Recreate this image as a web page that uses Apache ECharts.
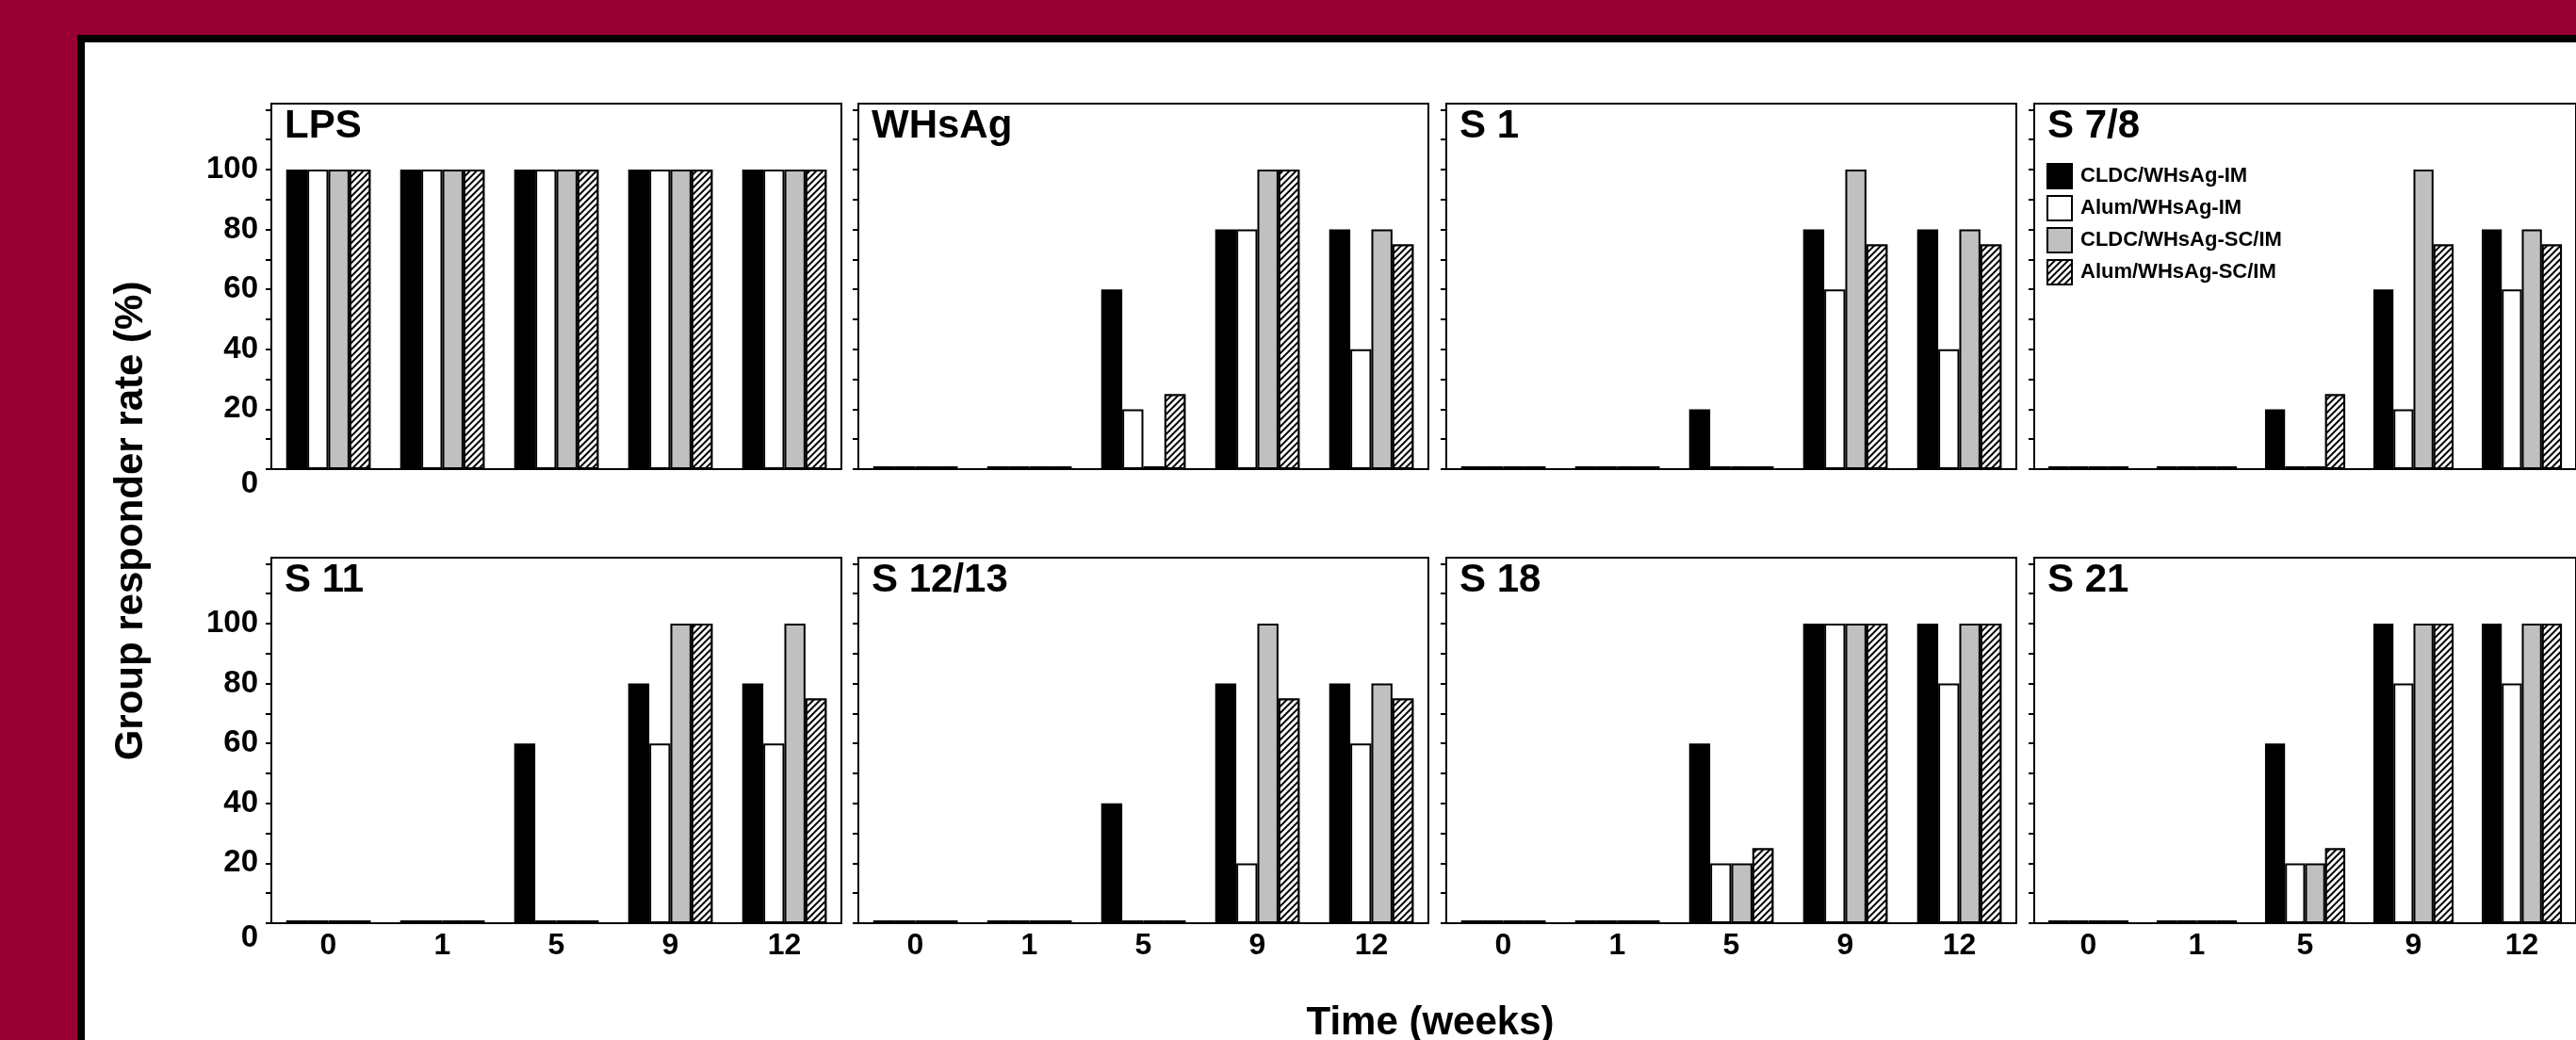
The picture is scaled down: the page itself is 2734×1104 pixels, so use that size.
<!DOCTYPE html>
<html>
<head>
<meta charset="UTF-8">
<title>Group responder rate</title>
<style>
  html, body { margin: 0; padding: 0; }
  body { width: 2734px; height: 1104px; overflow: hidden; background: #990033; position: relative; }
  #frame { position: absolute; left: 82px; top: 37px; width: 2700px; height: 1100px; background: #fff;
           border-left: 8px solid #000; border-top: 8px solid #000; }
  #chart { position: absolute; left: 0; top: 0; width: 2734px; height: 1104px; }
</style>
</head>
<body>
<div id="frame"></div>
<div id="chart"></div>
<script src="https://cdn.jsdelivr.net/npm/echarts@6/dist/echarts.min.js"></script>
<script>
// categories and panels
var weeks = ['0', '1', '5', '9', '12'];
var panels = ['LPS', 'WHsAg', 'S 1', 'S 7/8', 'S 11', 'S 12/13', 'S 18', 'S 21'];
var groups = ['CLDC/WHsAg-IM', 'Alum/WHsAg-IM', 'CLDC/WHsAg-SC/IM', 'Alum/WHsAg-SC/IM'];

// responder rate (%), one row per panel, by week
var cldcIM = [
    [100, 100, 100, 100, 100], // LPS
    [0, 0, 60, 80, 80],        // WHsAg
    [0, 0, 20, 80, 80],        // S 1
    [0, 0, 20, 60, 80],        // S 7/8
    [0, 0, 60, 80, 80],        // S 11
    [0, 0, 40, 80, 80],        // S 12/13
    [0, 0, 60, 100, 100],      // S 18
    [0, 0, 60, 100, 100]       // S 21
];
var alumIM = [
    [100, 100, 100, 100, 100],
    [0, 0, 20, 80, 40],
    [0, 0, 0, 60, 40],
    [0, 0, 0, 20, 60],
    [0, 0, 0, 60, 60],
    [0, 0, 0, 20, 60],
    [0, 0, 20, 100, 80],
    [0, 0, 20, 80, 80]
];
var cldcSC = [
    [100, 100, 100, 100, 100],
    [0, 0, 0, 100, 80],
    [0, 0, 0, 100, 80],
    [0, 0, 0, 100, 80],
    [0, 0, 0, 100, 100],
    [0, 0, 0, 100, 80],
    [0, 0, 20, 100, 100],
    [0, 0, 20, 100, 100]
];
var alumSC = [
    [100, 100, 100, 100, 100],
    [0, 0, 25, 100, 75],
    [0, 0, 0, 75, 75],
    [0, 0, 25, 75, 75],
    [0, 0, 0, 100, 75],
    [0, 0, 0, 75, 75],
    [0, 0, 25, 100, 100],
    [0, 0, 25, 100, 100]
];

// y axis ticks
var yLabelValues = [0, 20, 40, 60, 80, 100];
var yTickValues = [0, 10, 20, 30, 40, 50, 60, 70, 80, 90, 100, 110, 120];

var font = '"Liberation Sans", Arial, sans-serif';
var colX = [288, 911, 1535, 2159], rowY = [110, 592];
var boxW = 605, boxH = 388;

var hatch = {
    symbol: 'rect', symbolSize: 1,
    dashArrayX: [1, 0], dashArrayY: [2, 2.5],
    rotation: -Math.PI / 4,
    color: '#000', backgroundColor: '#fff'
};
var looks = [
    { color: '#000' },
    { color: '#fff' },
    { color: '#c0c0c0' },
    { color: '#fff', decal: hatch }
];
var values = [cldcIM, alumIM, cldcSC, alumSC];

var grids = [], xAxes = [], yAxes = [], series = [], texts = [];

panels.forEach(function (name, i) {
    var col = i % 4, row = Math.floor(i / 4);
    grids.push({
        left: colX[col], top: rowY[row], width: boxW, height: boxH,
        show: true, borderColor: '#000', borderWidth: 2, backgroundColor: 'transparent'
    });
    xAxes.push({
        type: 'category', gridIndex: i, data: weeks,
        axisLine: { lineStyle: { color: '#000', width: 2 } },
        axisTick: { length: 7, lineStyle: { color: '#000', width: 2 } },
        axisLabel: {
            show: row === 1, color: '#000', fontFamily: font, fontWeight: 'bold',
            fontSize: 32, margin: 8
        }
    });
    yAxes.push({
        type: 'value', gridIndex: i, min: 0, max: 122, interval: 10,
        splitLine: { show: false },
        axisLine: { show: true, lineStyle: { color: '#000', width: 2 } },
        axisTick: { show: true, length: 6, customValues: yTickValues, lineStyle: { color: '#000', width: 2 } },
        axisLabel: {
            show: col === 0, customValues: yLabelValues,
            color: '#000', fontFamily: font, fontWeight: 'bold', fontSize: 33, margin: 14,
            formatter: function (v) { return v === 0 ? '{z|0}' : String(v); },
            rich: { z: { color: '#000', fontFamily: font, fontWeight: 'bold', fontSize: 33, padding: [32, 0, 0, 0] } }
        }
    });
    groups.forEach(function (g, k) {
        series.push({
            name: g, type: 'bar', xAxisIndex: i, yAxisIndex: i,
            data: values[k][i],
            barGap: '0%', barCategoryGap: '26%', barMinHeight: 3,
            itemStyle: Object.assign({ borderColor: '#000', borderWidth: 2 }, looks[k]),
            emphasis: { disabled: true }
        });
    });
    // panel title
    texts.push({
        type: 'text', x: colX[col] + 14, y: rowY[row] + 24, z: 10,
        style: { text: name, font: 'bold 42px ' + font, fill: '#000', align: 'left', verticalAlign: 'middle' }
    });
});

texts.push({
    type: 'text', x: 139, y: 553, rotation: Math.PI / 2,
    style: { text: 'Group responder rate (%)', font: 'bold 42px ' + font, fill: '#000', align: 'center', verticalAlign: 'middle' }
});
texts.push({
    type: 'text', x: 1518, y: 1086,
    style: { text: 'Time (weeks)', font: 'bold 42px ' + font, fill: '#000', align: 'center', verticalAlign: 'middle' }
});

var myChart = echarts.init(document.getElementById('chart'));
myChart.setOption({
    animation: false,
    backgroundColor: 'transparent',
    textStyle: { fontFamily: font },
    legend: {
        orient: 'vertical', left: 2172, top: 173, padding: 0,
        itemWidth: 26, itemHeight: 26, itemGap: 6, icon: 'rect',
        selectedMode: false, data: groups,
        textStyle: { color: '#000', fontFamily: font, fontWeight: 'bold', fontSize: 22, padding: [0, 0, 0, 4] }
    },
    grid: grids,
    xAxis: xAxes,
    yAxis: yAxes,
    series: series,
    graphic: texts
});
</script>
</body>
</html>
